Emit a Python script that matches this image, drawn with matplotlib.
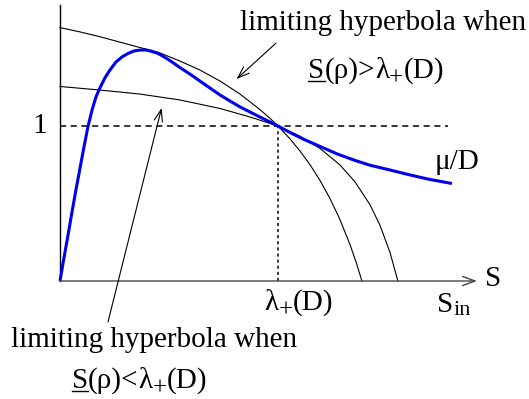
import matplotlib
matplotlib.use("Agg")
import matplotlib.pyplot as plt
from matplotlib.lines import Line2D

plt.rcParams['font.family'] = ['Liberation Serif', 'DejaVu Serif']

# blue curve mu(S)/D (S in units of lambda_+(D))
mu_s = [0.0, 0.018, 0.037, 0.055, 0.073, 0.092, 0.110, 0.128, 0.147, 0.165, 0.183,
        0.206, 0.229, 0.257, 0.284, 0.312, 0.339, 0.367, 0.394, 0.422, 0.450, 0.482,
        0.514, 0.550, 0.596, 0.642, 0.688, 0.734, 0.780, 0.826, 0.872, 0.917, 0.963,
        1.0, 1.055, 1.115, 1.193, 1.271, 1.353, 1.422, 1.514, 1.606, 1.697, 1.798]
mu_y = [0.0, 0.148, 0.297, 0.445, 0.587, 0.729, 0.865, 0.994, 1.103, 1.187, 1.245,
        1.310, 1.361, 1.413, 1.445, 1.468, 1.484, 1.490, 1.490, 1.481, 1.468, 1.442,
        1.413, 1.377, 1.335, 1.290, 1.245, 1.200, 1.161, 1.123, 1.090, 1.058, 1.026,
        1.0, 0.958, 0.916, 0.868, 0.820, 0.778, 0.747, 0.716, 0.684, 0.655, 0.629]

# limiting hyperbola, S(rho) > lambda_+(D)
up_s = [0.0, 0.092, 0.183, 0.275, 0.367, 0.413, 0.459, 0.550, 0.642, 0.734, 0.826,
        0.917, 0.963, 1.0, 1.055, 1.101, 1.147, 1.193, 1.239, 1.284, 1.330, 1.358, 1.385]
up_y = [1.635, 1.607, 1.576, 1.541, 1.506, 1.490, 1.471, 1.419, 1.361, 1.290, 1.206,
        1.106, 1.050, 1.0, 0.917, 0.839, 0.750, 0.648, 0.531, 0.397, 0.236, 0.123, 0.0]

# limiting hyperbola, S(rho) < lambda_+(D)
lo_s = [0.0, 0.183, 0.367, 0.550, 0.734, 0.872, 1.0, 1.101, 1.193, 1.284, 1.353,
        1.422, 1.468, 1.514, 1.550]
lo_y = [1.255, 1.232, 1.206, 1.168, 1.113, 1.058, 1.0, 0.934, 0.855, 0.749, 0.640,
        0.492, 0.359, 0.183, 0.0]

fig = plt.figure(figsize=(5.29, 3.99), dpi=100)
ax = fig.add_axes([0, 0, 1, 1])
ax.set_xlim(-0.2752, 2.1514)
ax.set_ylim(-0.7613, 1.8129)
ax.axis('off')

# axes
ax.plot([0, 0], [0, 1.78], color='black', lw=1.0)
ax.annotate('', xy=(1.913, 0), xytext=(0, 0),
            arrowprops=dict(arrowstyle='->, head_length=0.6, head_width=0.22',
                            color='#444444', lw=1.0, mutation_scale=15,
                            shrinkA=0, shrinkB=0))

ax.plot([0, 1.78], [1, 1], color='black', lw=1.1, dashes=(4, 3))
ax.plot([1, 1], [0, 1], color='black', lw=1.1, dashes=(2, 2))

ax.plot(up_s, up_y, color='black', lw=0.8)
ax.plot(lo_s, lo_y, color='black', lw=0.8)
ax.plot(mu_s, mu_y, color='#0000ee', lw=2.2, solid_capstyle='butt')

fs = 21
sub = 16
fig.canvas.draw()
r = fig.canvas.get_renderer()


def width_pt(s, size):
    t = ax.text(0, 0, s, fontsize=size)
    w = t.get_window_extent(r).width * 72.0 / fig.dpi
    t.remove()
    return w


def rich(x, y, parts, underline_first=False):
    # parts: (text, size, vertical shift in points); centred on x, baseline y
    widths = [width_pt(s, size) for s, size, dy in parts]
    off = -sum(widths) / 2.0
    x0 = off
    for (s, size, dy), w in zip(parts, widths):
        ax.annotate(s, xy=(x, y), xytext=(off, dy), textcoords='offset points',
                    fontsize=size, ha='left', va='baseline')
        off += w
    if underline_first:
        px, py = ax.transData.transform((x, y))
        k = fig.dpi / 72.0
        yy = (py - 2.0 * k) / fig.bbox.height
        fig.add_artist(Line2D([(px + x0 * k) / fig.bbox.width,
                               (px + (x0 + widths[0]) * k) / fig.bbox.width],
                              [yy, yy], transform=fig.transFigure,
                              color='black', lw=1.0))


lam = [('λ', fs, 0), ('+', 18, -5), ('(D)', fs, 0)]

ax.text(-0.06, 1.0, '1', fontsize=fs, ha='right', va='center')
ax.text(1.95, 0.01, 'S', fontsize=fs, ha='left', va='center')
rich(1.095, -0.187, lam)
rich(1.807, -0.200, [('S', fs, 0), ('in', sub, -2.5)])
ax.text(1.82, 0.72, 'μ/D', fontsize=fs, ha='center', va='baseline')

ax.text(1.48, 1.618, 'limiting hyperbola when', fontsize=fs, ha='center', va='baseline')
rich(1.45, 1.31, [('S', fs, 0), ('(ρ)>', fs, 0)] + lam, underline_first=True)
ax.text(0.43, -0.426, 'limiting hyperbola when', fontsize=fs, ha='center', va='baseline')
rich(0.365, -0.69, [('S', fs, 0), ('(ρ)<', fs, 0)] + lam, underline_first=True)

# pointer arrows
ax.annotate('', xy=(0.81, 1.303), xytext=(0.991, 1.535),
            arrowprops=dict(arrowstyle='->, head_length=0.7, head_width=0.25',
                            color='black', lw=0.8, mutation_scale=12,
                            shrinkA=0, shrinkB=0))
ax.annotate('', xy=(0.466, 1.116), xytext=(0.22, -0.265),
            arrowprops=dict(arrowstyle='->, head_length=0.7, head_width=0.25',
                            color='black', lw=0.8, mutation_scale=12,
                            shrinkA=0, shrinkB=0))

fig.savefig('out.png', dpi=100)
